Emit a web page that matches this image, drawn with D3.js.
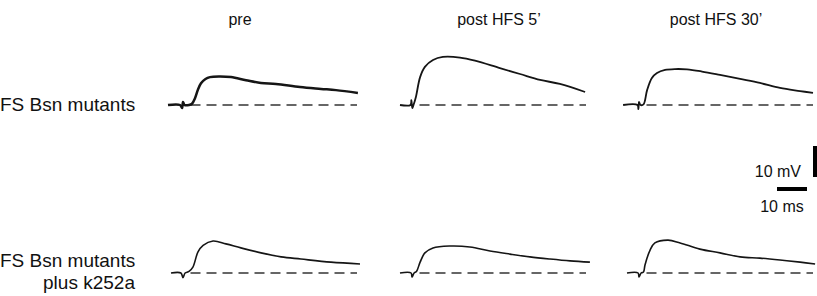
<!DOCTYPE html>
<html>
<head>
<meta charset="utf-8">
<script src="https://cdn.jsdelivr.net/npm/d3@7"></script>
<style>
  body { margin: 0; background: #fff; }
  text { font-family: "Liberation Sans", Arial, sans-serif; fill: #111; }
</style>
</head>
<body>
<svg id="chart" width="817" height="296"></svg>
<script>
// column titles and row labels
const conditions = ["pre", "post HFS 5\u2019", "post HFS 30\u2019"];
const groupLabels = [["FS Bsn mutants"], ["FS Bsn mutants", "plus k252a"]];

// traces: time (ms from stimulus) and voltage (mV above baseline)
// row 1: FS Bsn mutants
const bsnPreMs    = [-5, -1, -0.3, 0, 0.5, 2, 3, 4, 5, 6, 7.5, 9, 12, 16, 21, 26, 31, 39, 46, 51, 58.3];
const bsnPreMv    = [0, 0, -1, 1, 0, 0, 0.4, 2.2, 5, 7, 8.4, 9.0, 9.2, 9.0, 8.0, 7.1, 6.8, 5.8, 5.2, 4.8, 3.9];
const bsn5Ms      = [-4, -0.5, -0.2, 0.1, 0.5, 1.3, 2.7, 4.3, 7, 10.3, 16, 21, 29.3, 36, 42.7, 49.3, 57.7];
const bsn5Mv      = [0, 0, 1.6, -1, 0, 2.6, 9, 12.3, 14.5, 15.5, 15.3, 14.3, 11.9, 10, 8.1, 6.8, 4.2];
const bsn30Ms     = [-5.3, -0.5, -0.2, 0, 0.5, 1.5, 2.7, 4.3, 6, 8.7, 12, 16, 21, 27, 33.7, 40.3, 47, 53.7, 58];
const bsn30Mv     = [0, 0, -1.3, 1, 0, 0.2, 4.8, 8.7, 10.3, 11.3, 11.6, 11.5, 10.8, 9.7, 8.4, 7.1, 5.5, 4.5, 3.9];
// row 2: FS Bsn mutants plus k252a
const kPreMs      = [-4, -0.7, 0, 0.7, 2, 3.3, 5, 6.7, 10, 14.3, 19.3, 26, 32.7, 39.3, 49.3, 59];
const kPreMv      = [0, 0, -1.5, 0, 0.5, 1.9, 6.8, 8.9, 10.3, 9.4, 8.1, 6.5, 5.2, 4.5, 3.5, 2.9];
const k5Ms        = [-4, -0.3, 0, 0.7, 1.5, 2.7, 4.3, 7, 12.7, 19.3, 26, 32.7, 39.3, 46, 52.7, 59.3];
const k5Mv        = [0, 0, -1.3, 0, 0.5, 3.5, 6.5, 8.1, 8.7, 8.4, 7.1, 6.1, 5.2, 4.5, 3.9, 3.5];
const k30Ms       = [-4, -0.3, 0, 0.7, 1.5, 2, 3.7, 5.3, 9.7, 13.7, 20.3, 27, 33.7, 40.3, 47, 53.7, 58.7];
const k30Mv       = [0, 0, -1.3, 0, 0.3, 2.6, 7.4, 9.7, 10.6, 9.7, 7.7, 6.5, 5.2, 4.8, 4.2, 3.5, 2.9];

const baselineMs = [2.5, 58];   // dashed resting line
const scaleBarMs = 10, scaleBarMv = 10;

const traces = [
  [bsnPreMs, bsnPreMv], [bsn5Ms, bsn5Mv], [bsn30Ms, bsn30Mv],
  [kPreMs, kPreMv], [k5Ms, k5Mv], [k30Ms, k30Mv]
];

// layout
const colStim = [183, 412, 639];   // x of stimulus artifact
const rowBase = [105, 273];        // y of baseline
const pxPerMs = 3, pxPerMv = 3.1;
const traceWidth = [[2.5, 1.8, 1.8], [1.6, 1.6, 1.6]];

const svg = d3.select("#chart");

const xFor = (c) => d3.scaleLinear().domain([0, 10]).range([colStim[c], colStim[c] + 10 * pxPerMs]);
const yFor = (r) => d3.scaleLinear().domain([0, 10]).range([rowBase[r], rowBase[r] - 10 * pxPerMv]);

// titles
svg.selectAll(".title")
  .data(conditions)
  .enter().append("text")
    .attr("class", "title")
    .attr("x", (d, i) => [240, 499, 716][i])
    .attr("y", 25)
    .attr("text-anchor", "middle")
    .attr("font-size", "16px")
    .text((d) => d);

// row labels
groupLabels.forEach((lines, r) => {
  const t = svg.append("text").attr("font-size", "19px");
  lines.forEach((line, k) => {
    t.append("tspan")
      .attr("x", k === 0 ? 0 : 89)
      .attr("text-anchor", k === 0 ? "start" : "middle")
      .attr("y", (r === 0 ? 111 : 267) + k * 22)
      .text(line);
  });
});

// traces
traces.forEach((tr, i) => {
  const r = Math.floor(i / 3), c = i % 3;
  const x = xFor(c), y = yFor(r);
  const pts = tr[0].map((t, k) => [t, tr[1][k]]);

  svg.append("line")
    .attr("x1", x(baselineMs[0])).attr("x2", x(baselineMs[1]))
    .attr("y1", y(0)).attr("y2", y(0))
    .attr("stroke", "#666")
    .attr("stroke-width", 2.2)
    .attr("stroke-dasharray", "10,6");

  const line = d3.line()
    .x((d) => x(d[0]))
    .y((d) => y(d[1]))
    .curve(d3.curveCatmullRom.alpha(0.5));

  svg.append("path")
    .attr("d", line(pts))
    .attr("fill", "none")
    .attr("stroke", "#151515")
    .attr("stroke-width", traceWidth[r][c])
    .attr("stroke-linejoin", "round");
});

// scale bars
const sbX = d3.scaleLinear().domain([0, scaleBarMs]).range([777, 777 + scaleBarMs * pxPerMs]);
const sbY = d3.scaleLinear().domain([0, scaleBarMv]).range([177, 177 - scaleBarMv * pxPerMv]);

svg.append("line")
  .attr("x1", 815).attr("x2", 815)
  .attr("y1", sbY(0)).attr("y2", sbY(scaleBarMv))
  .attr("stroke", "#000").attr("stroke-width", 4);

svg.append("line")
  .attr("x1", sbX(0)).attr("x2", sbX(scaleBarMs))
  .attr("y1", 189).attr("y2", 189)
  .attr("stroke", "#000").attr("stroke-width", 4);

svg.append("text")
  .attr("x", 801).attr("y", 177)
  .attr("text-anchor", "end")
  .attr("font-size", "16px")
  .text(scaleBarMv + " mV");

svg.append("text")
  .attr("x", 782).attr("y", 212)
  .attr("text-anchor", "middle")
  .attr("font-size", "16px")
  .text(scaleBarMs + " ms");
</script>
</body>
</html>
